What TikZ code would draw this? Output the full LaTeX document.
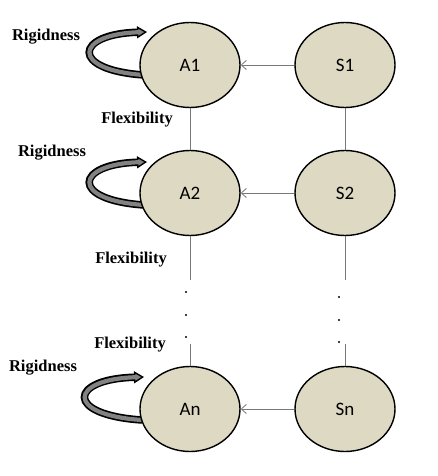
\documentclass[tikz,border=0pt]{standalone}
\usepackage{fontspec}
\setmainfont{Liberation Serif}
\newfontfamily\agentfont{Carlito}
\usetikzlibrary{arrows.meta,shapes.geometric,backgrounds,positioning}
\definecolor{cellfill}{RGB}{221,217,195}
\definecolor{loopgray}{RGB}{130,130,130}
\definecolor{wiregray}{RGB}{120,120,120}
\tikzset{cellstyle/.style = {ellipse, draw = black, line width = 1.4pt, fill = cellfill, minimum width = 100pt, minimum height = 85pt, inner sep = 0pt, font = \agentfont\fontsize{19}{21}\selectfont},
	tagstyle/.style = {inner sep = 0pt, font = \bfseries\fontsize{16.5}{18}\selectfont},
	wire/.style = {draw = wiregray, line width = 0.8pt},
	feed/.style = {wire, -{Straight Barb[length=5pt, width=9pt]}},
	rigid/.style = {line width = 7.5pt, -{Triangle[line width=1.4pt, fill=loopgray, length=10pt, width=12pt]},
		postaction = {draw = loopgray, line width = 4.2pt, -, shorten >= 8pt}}}
\begin{document}
\begin{tikzpicture}[x=1pt, y=-1pt]
 \useasboundingbox (0,0) rectangle (438,476);

 \node (A1) at (190,65) [cellstyle] {A1};
 \node (S1) at (345,65) [cellstyle] {S1}
  edge [feed] (A1);
 \node (A2) at (190,193) [cellstyle] {A2}
  edge [wire] (A1);
 \node (S2) at (345,193) [cellstyle] {S2}
  edge [feed] (A2)
  edge [wire] (S1);
 \node (An) at (190,409) [cellstyle] {An};
 \node (Sn) at (345,409) [cellstyle] {Sn}
  edge [feed] (An);

 % gaps with dots
 \coordinate (gapA1) at (190,280);
 \coordinate (gapA2) at (190,344);
 \coordinate (gapS1) at (345,280);
 \coordinate (gapS2) at (345,344);
 \draw [wire] (A2) -- (gapA1);
 \draw [wire] (gapA2) -- (An);
 \draw [wire] (S2) -- (gapS1);
 \draw [wire] (gapS2) -- (Sn);
 \fill (186,292) circle (1.2pt) (186,315) circle (1.2pt) (186,337) circle (1.2pt);
 \fill (339,297) circle (1.2pt) (339,320) circle (1.2pt) (339,342) circle (1.2pt);

 \node (rig1) at (46,37) [tagstyle] {Rigidness};
 \node (flex1) at (137,120) [tagstyle] {Flexibility};
 \node (rig2) at (52,153) [tagstyle] {Rigidness};
 \node (flex2) at (131,260) [tagstyle] {Flexibility};
 \node (flex3) at (130,345) [tagstyle] {Flexibility};
 \node (rig3) at (43,368) [tagstyle] {Rigidness};

 \begin{scope}[on background layer]
  \draw [rigid] ([shift={(-46,10)}]A1.center) .. controls +(-75,-5) and +(-72,2) .. ([shift={(-43,-33)}]A1.center);
  \draw [rigid] ([shift={(-46,12)}]A2.center) .. controls +(-75,-5) and +(-72,2) .. ([shift={(-43,-31)}]A2.center);
  \draw [rigid] ([shift={(-48,11)}]An.center) .. controls +(-78,-5) and +(-75,2) .. ([shift={(-46,-32)}]An.center);
 \end{scope}

\end{tikzpicture}
\end{document}
